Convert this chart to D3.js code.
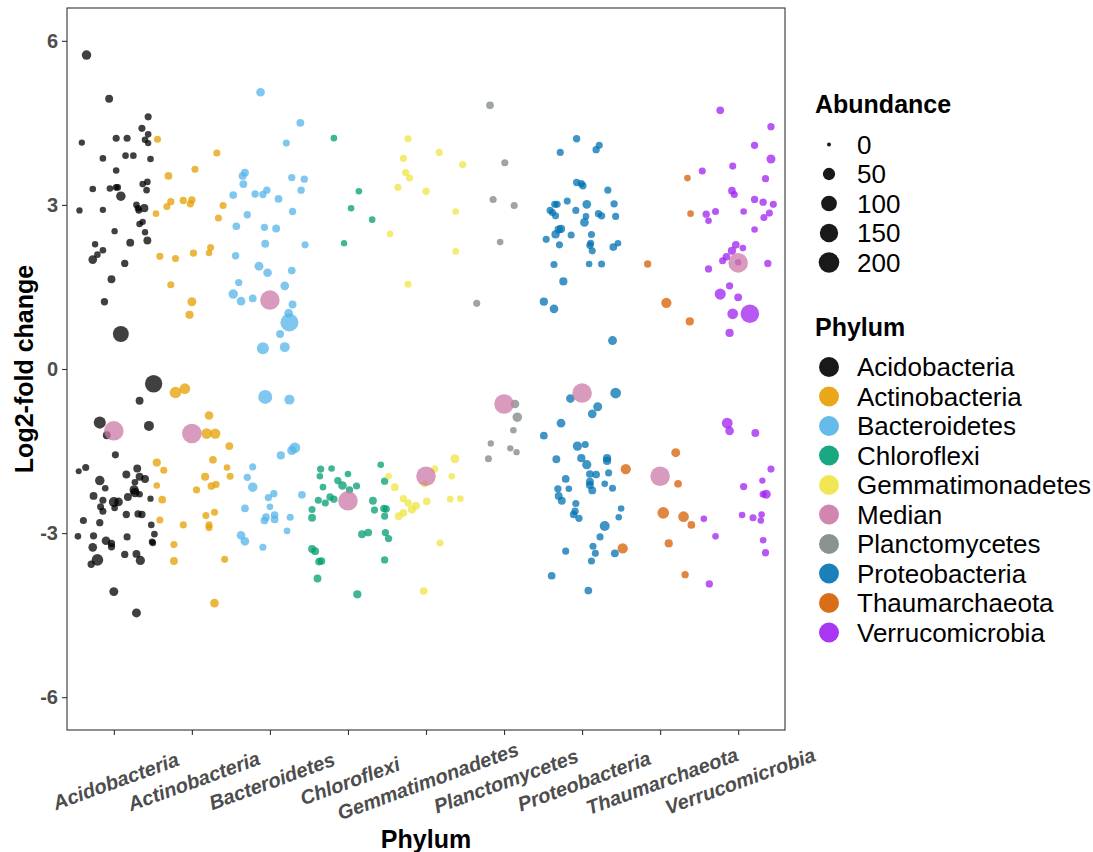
<!DOCTYPE html>
<html>
<head>
<meta charset="utf-8">
<script src="https://cdn.jsdelivr.net/npm/d3@7"></script>
<style>
  body { margin: 0; background: #fff; }
  svg { font-family: "Liberation Sans", Arial, sans-serif; }
</style>
</head>
<body>
<svg width="1093" height="852"></svg>
<script>
// phylum order on the x axis
const phyla = ["Acidobacteria", "Actinobacteria", "Bacteroidetes", "Chloroflexi", "Gemmatimonadetes",
  "Planctomycetes", "Proteobacteria", "Thaumarchaeota", "Verrucomicrobia"]

// each point: [jitter (fraction of a category step), log2-fold change, abundance]
const acidobacteria = [
  [-0.35,5.74,22],[-0.06,4.94,11],[0.44,4.61,7],[0.36,4.40,7],[0.44,4.29,5],[0.40,4.19,5],[0.44,4.13,4],[-0.41,4.14,4],[0.03,4.22,7],[0.17,4.22,7],
  [-0.14,3.85,5],[0.15,3.90,5],[0.25,3.90,5],[0.47,3.84,5],[0.03,3.63,5],[-0.27,3.29,5],[-0.05,3.30,5],[0.03,3.32,5],[0.05,3.32,5],[0.09,3.16,22],
  [0.37,3.38,5],[0.43,3.42,5],[0.42,3.27,5],[-0.44,2.90,4],[-0.14,2.91,4],[0.29,3.00,5],[0.31,2.94,5],[0.32,2.90,5],[0.39,2.94,13],[0.33,2.65,5],
  [0.37,2.69,4],[0.01,2.52,4],[0.40,2.50,4],[-0.24,2.28,4],[0.21,2.31,11],[0.43,2.35,11],[-0.14,2.17,5],[-0.21,2.09,5],[-0.27,2.00,16],[0.14,1.93,8],
  [-0.03,1.64,11],[-0.12,1.23,8],[0.09,0.64,104],
  [0.51,-0.27,130],[0.33,-0.58,11],[-0.18,-0.98,47],[-0.09,-1.21,11],[0.45,-1.04,26],[0.02,-1.57,7],[-0.45,-1.87,3],[-0.36,-1.80,7],[-0.18,-2.04,22],[-0.11,-2.18,5],
  [0.16,-1.93,11],[0.30,-1.82,11],[0.33,-1.97,11],[0.40,-2.01,11],[0.27,-2.07,5],[0.26,-2.21,20],[0.27,-2.26,20],[0.33,-2.29,5],[0.18,-2.34,11],[-0.26,-2.32,11],
  [-0.14,-2.40,7],[-0.17,-2.52,7],[-0.14,-2.60,7],[0.00,-2.43,26],[0.06,-2.43,16],[0.01,-2.54,5],[0.47,-2.37,4],[0.16,-2.66,8],[0.31,-2.65,8],[0.36,-2.66,8],
  [-0.39,-2.77,7],[-0.18,-2.81,8],[0.48,-2.85,5],[-0.46,-3.06,5],[-0.26,-3.05,8],[-0.10,-3.14,16],[-0.03,-3.19,8],[-0.03,-3.25,8],[0.17,-3.07,7],[0.52,-3.02,5],
  [0.49,-3.16,5],[0.50,-3.18,5],[-0.27,-3.26,16],[-0.21,-3.49,42],[-0.29,-3.57,8],[0.14,-3.39,8],[0.29,-3.38,11],[0.34,-3.50,20],[0.00,-4.07,18],[0.29,-4.46,18]
]

const actinobacteria = [
  [-0.44,4.20,7],[0.32,3.95,7],[0.04,3.65,7],[-0.30,3.53,10],[-0.27,3.06,8],[-0.32,2.97,7],[-0.11,3.08,8],[0.00,3.09,8],[-0.02,3.02,8],[0.40,2.99,7],
  [-0.46,2.84,5],[0.34,2.76,7],[0.24,2.22,7],[0.22,2.12,5],[0.02,2.12,8],[-0.41,2.06,7],[-0.21,2.02,7],[-0.27,1.54,7],[0.00,1.23,18],[-0.03,0.99,13],
  [-0.21,-0.43,42],[-0.09,-0.36,33],[0.22,-0.85,16],[0.19,-1.18,33],[0.30,-1.18,29],[0.48,-1.41,11],[-0.45,-1.71,13],[-0.36,-1.85,7],[-0.45,-2.13,5],[-0.38,-2.39,10],
  [0.27,-1.66,10],[0.45,-1.80,5],[0.17,-1.97,13],[0.49,-1.96,7],[0.25,-2.14,10],[0.31,-2.11,7],[0.06,-2.21,7],[-0.41,-2.76,7],[-0.11,-2.85,7],[0.18,-2.68,7],
  [0.29,-2.62,7],[0.22,-2.85,7],[0.22,-2.90,7],[-0.23,-3.21,7],[-0.23,-3.51,11],[0.42,-3.48,7],[0.29,-4.28,16]
]

const bacteroidetes = [
  [-0.32,3.59,11],[-0.35,3.53,11],[-0.34,3.38,11],[-0.47,3.18,10],[-0.29,2.82,8],[-0.43,2.61,10],[-0.44,2.07,8],[-0.40,1.58,8],[-0.47,1.37,22],[-0.37,1.24,16],
  [-0.12,5.06,16],[0.39,4.50,11],[0.21,4.13,7],[0.28,3.50,8],[0.44,3.47,8],[0.40,3.27,8],[-0.19,3.20,8],[-0.09,3.19,8],[-0.04,3.27,8],[0.11,3.11,10],
  [0.29,2.88,8],[-0.07,2.59,8],[0.08,2.57,11],[-0.06,2.29,11],[0.45,2.27,7],[-0.14,1.88,18],[-0.03,1.76,16],[0.28,1.80,10],[0.19,1.52,16],[-0.22,1.29,10],
  [0.29,1.18,11],[0.24,1.02,16],[0.25,0.85,142],[-0.09,0.38,47],[0.19,0.40,26],[0.13,0.64,11],
  [-0.06,-0.51,73],[0.25,-0.56,26],[0.32,-1.44,33],[0.28,-1.49,20],[0.14,-1.58,13],[-0.22,-1.79,7],[-0.29,-1.98,8],[-0.22,-2.16,22],[-0.02,-2.35,8],[0.05,-2.28,8],
  [0.41,-2.30,10],[-0.32,-2.55,10],[0.00,-2.52,5],[-0.05,-2.71,10],[-0.07,-2.77,10],[0.06,-2.67,10],[0.06,-2.75,10],[0.26,-2.71,7],[0.22,-2.96,5],[-0.37,-3.04,16],
  [-0.32,-3.15,16],[-0.09,-3.26,7]
]

const chloroflexi = [
  [-0.18,4.22,5],[0.14,3.25,5],[0.04,2.94,5],[0.31,2.73,5],[-0.05,2.30,4],
  [-0.35,-1.83,8],[-0.36,-1.96,5],[-0.21,-1.82,5],[0.00,-1.92,5],[-0.13,-2.04,8],[-0.07,-2.13,16],[0.02,-2.21,8],[0.11,-2.14,7],[-0.32,-2.16,5],[-0.23,-2.34,8],
  [-0.18,-2.38,8],[-0.38,-2.40,7],[-0.29,-2.45,7],[-0.46,-2.57,7],[-0.46,-2.72,11],[0.42,-1.75,5],[0.47,-2.05,8],[0.32,-2.41,11],[0.34,-2.58,7],[0.46,-2.55,8],
  [0.49,-2.56,8],[0.47,-2.69,7],[0.18,-3.02,11],[0.26,-2.99,10],[0.48,-2.99,8],[0.52,-3.10,8],[-0.46,-3.29,11],[-0.42,-3.33,11],[-0.37,-3.52,10],[-0.34,-3.51,10],
  [-0.39,-3.83,11],[0.47,-3.49,8],[0.12,-4.12,13]
]

const gemmatimonadetes = [
  [-0.23,4.21,7],[-0.29,3.85,7],[-0.26,3.59,7],[-0.21,3.49,7],[-0.36,3.32,7],[-0.46,2.47,5],[-0.23,1.55,7],[0.17,3.96,7],[0.47,3.74,7],[0.00,3.25,8],
  [0.38,2.88,5],[0.38,2.15,5],
  [-0.48,-1.96,5],[-0.40,-2.16,11],[-0.29,-2.37,8],[-0.23,-2.45,8],[-0.13,-2.50,13],[-0.18,-2.57,13],[-0.35,-2.69,11],[-0.29,-2.63,11],
  [0.37,-1.64,18],[0.11,-1.83,8],[0.33,-1.96,5],[-0.02,-2.10,7],[0.01,-2.42,10],[0.31,-2.38,5],[0.44,-2.37,5],[0.18,-3.18,7],[-0.03,-4.06,10]
]

const planctomycetes = [
  [-0.18,4.82,10],[0.01,3.77,7],[-0.14,3.10,7],[0.13,2.99,7],[-0.05,2.32,5],[-0.35,1.20,7],
  [0.14,-0.64,16],[0.17,-0.88,22],[0.12,-1.12,5],[-0.17,-1.36,4],[0.08,-1.45,4],[0.16,-1.52,4],[-0.20,-1.64,7]
]

const proteobacteria = [
  [-0.07,4.21,8],[-0.28,3.96,7],[0.18,4.01,8],[0.22,4.09,7],[-0.07,3.41,8],[-0.01,3.39,8],[0.01,3.35,8],[-0.19,3.07,7],[-0.35,3.01,7],[-0.32,3.01,7],
  [-0.41,2.90,7],[-0.38,2.86,7],[-0.34,2.80,7],[-0.08,2.90,7],[0.06,3.01,16],[0.05,2.79,5],[0.03,2.68,16],[-0.30,2.55,13],[-0.27,2.56,13],[-0.34,2.46,13],
  [-0.46,2.37,7],[-0.29,2.27,7],[-0.14,2.45,7],[0.12,2.46,7],[0.10,2.26,7],[0.11,2.30,7],[0.13,2.16,7],[-0.36,1.91,7],[0.09,1.92,5],[0.25,1.92,7],
  [-0.24,1.60,13],[-0.49,1.23,13],[-0.36,1.10,16],[0.33,3.27,7],[0.41,3.02,8],[0.21,2.84,8],[0.25,2.80,8],[0.43,2.79,7],[0.40,2.23,10],[0.46,2.30,5],
  [-0.15,-0.54,16],[0.20,-0.69,18],[0.13,-0.82,16],[-0.27,-0.99,16],[-0.49,-1.22,10],[-0.06,-1.41,20],[0.04,-1.38,7],[-0.33,-1.65,11],[-0.01,-1.63,13],[0.06,-1.75,20],
  [0.10,-1.92,10],[0.18,-1.93,10],[-0.21,-2.01,10],[0.10,-2.06,11],[0.10,-2.12,11],[0.13,-2.22,11],[-0.31,-2.19,8],[-0.17,-2.19,5],[-0.30,-2.32,11],[-0.26,-2.41,11],
  [-0.08,-2.46,7],[-0.09,-2.60,8],[-0.11,-2.66,8],[-0.04,-2.73,8],[-0.21,-3.33,7],[0.14,-3.24,7],[0.17,-3.37,7],[0.12,-3.51,7],[-0.39,-3.78,10],[0.08,-4.05,10],
  [0.39,0.52,18],[0.43,-0.44,33],[0.32,-1.63,13],[0.32,-1.68,13],[0.34,-1.90,7],[0.29,-2.10,5],[0.39,-2.18,7],[0.50,-2.55,5],[0.47,-2.71,5],[0.29,-2.87,26],
  [0.23,-3.07,7],[0.42,-3.37,11]
]

const thaumarchaeota = [
  [0.35,3.49,5],[0.39,2.84,5],[-0.16,1.92,8],[0.08,1.21,29],[0.38,0.87,13],
  [0.20,-1.53,18],[-0.44,-1.83,29],[0.23,-2.10,10],[0.04,-2.63,42],[0.30,-2.70,33],[0.40,-2.85,10],[-0.48,-3.28,29],[0.11,-3.19,13],[0.32,-3.76,8]
]

const verrucomicrobia = [
  [-0.23,4.73,10],[0.42,4.43,8],[0.21,4.09,8],[0.42,3.84,18],[-0.07,3.71,7],[-0.46,3.62,7],[0.35,3.48,8],[-0.08,3.26,10],[-0.05,3.19,7],[0.21,3.10,8],
  [0.32,3.05,8],[0.45,3.01,7],[-0.41,2.83,8],[-0.38,2.71,5],[-0.29,2.88,7],[0.07,2.88,5],[0.40,2.85,7],[0.33,2.77,7],[0.21,2.55,5],[-0.03,2.27,10],
  [-0.08,2.16,13],[0.06,2.21,5],[-0.15,2.05,10],[-0.20,1.98,7],[0.00,1.95,5],[-0.38,1.83,8],[0.38,1.93,8],[-0.11,1.52,8],[-0.23,1.37,37],[0.00,1.31,11],
  [-0.07,1.01,33],[0.15,1.01,155],[-0.11,0.66,13],
  [-0.14,-0.99,33],[-0.11,-1.13,16],[0.22,-1.17,11],[0.42,-1.83,7],[0.31,-2.04,4],[0.07,-2.15,8],[0.32,-2.29,7],[0.36,-2.29,18],[0.05,-2.67,5],[0.19,-2.72,7],
  [0.30,-2.66,5],[0.29,-2.77,5],[-0.44,-2.74,5],[-0.29,-3.06,5],[0.32,-3.13,5],[0.35,-3.36,8],[-0.37,-3.93,8]
]

// median log2-fold change per phylum (same order as phyla)
const medianValues = [-1.13, -1.18, 1.26, -2.41, -1.96, -0.64, -0.44, -1.96, 1.94]
const medianAbundance = 176

const yTicks = [-6, -3, 0, 3, 6]
const sizeBreaks = [0, 50, 100, 150, 200]
const colorLevels = ["Acidobacteria", "Actinobacteria", "Bacteroidetes", "Chloroflexi", "Gemmatimonadetes",
  "Median", "Planctomycetes", "Proteobacteria", "Thaumarchaeota", "Verrucomicrobia"]
const colorValues = ["#000000", "#E69F00", "#56B4E9", "#009E73", "#F0E442",
  "#CC79A7", "#7d8686", "#0072B2", "#D55E00", "#A020F0"]

const pointsByPhylum = [acidobacteria, actinobacteria, bacteroidetes, chloroflexi, gemmatimonadetes,
  planctomycetes, proteobacteria, thaumarchaeota, verrucomicrobia]

let points = []
phyla.forEach((p, i) => {
  pointsByPhylum[i].forEach(d => {
    points.push({ phylum: p, group: p, jit: d[0], lfc: d[1], abund: d[2] })
  })
})
phyla.forEach((p, i) => {
  points.push({ phylum: p, group: "Median", jit: 0, lfc: medianValues[i], abund: medianAbundance })
})

var svg = d3.select("svg")

const panel = { left: 67, right: 785, top: 8, bottom: 730 }

var x = d3.scalePoint().domain(phyla).range([panel.left, panel.right]).padding(0.6)
var y = d3.scaleLinear().domain([-6.6, 6.6]).range([panel.bottom, panel.top])
var r = d3.scaleSqrt().domain([0, 200]).range([2, 10.3])
var color = d3.scaleOrdinal().domain(colorLevels).range(colorValues)

// points
svg.append("g").selectAll("circle")
  .data(points)
  .enter().append("circle")
  .attr("cx", d => x(d.phylum) + d.jit * x.step())
  .attr("cy", d => y(d.lfc))
  .attr("r", d => r(d.abund))
  .style("fill", d => color(d.group))
  .style("fill-opacity", 0.75)

// panel border
svg.append("rect")
  .attr("x", panel.left).attr("y", panel.top)
  .attr("width", panel.right - panel.left).attr("height", panel.bottom - panel.top)
  .attr("fill", "none").attr("stroke", "#333333").attr("stroke-width", 1.1)

// y axis (plain hyphen for negatives, like the original)
var yAxis = svg.append("g")
  .attr("transform", "translate(" + panel.left + ",0)")
  .call(d3.axisLeft(y).tickValues(yTicks).tickSize(5).tickPadding(4).tickFormat(d => String(d)))
yAxis.select(".domain").remove()
yAxis.selectAll(".tick line").attr("stroke", "#333333").attr("stroke-width", 1.1)
yAxis.selectAll(".tick text")
  .attr("fill", "#4d4d4d").style("font-size", "20px").style("font-weight", "bold")
  .style("font-family", "'Liberation Sans', Arial, sans-serif")

// x axis
var xAxis = svg.append("g")
  .attr("transform", "translate(0," + panel.bottom + ")")
  .call(d3.axisBottom(x).tickSize(5).tickFormat(""))
xAxis.select(".domain").remove()
xAxis.selectAll(".tick line").attr("stroke", "#333333").attr("stroke-width", 1.1)

svg.append("g").selectAll("text")
  .data(phyla)
  .enter().append("text")
  .attr("transform", d => "translate(" + (x(d) + 2) + ",781) rotate(-20)")
  .attr("text-anchor", "middle")
  .attr("dy", "0.35em")
  .attr("fill", "#4d4d4d")
  .style("font-size", "20px").style("font-weight", "bold").style("font-style", "italic")
  .text(d => d)

// axis titles
svg.append("text")
  .attr("x", (panel.left + panel.right) / 2).attr("y", 848)
  .attr("text-anchor", "middle")
  .style("font-size", "25px").style("font-weight", "bold")
  .text("Phylum")

svg.append("text")
  .attr("transform", "translate(33," + ((panel.top + panel.bottom) / 2) + ") rotate(-90)")
  .attr("text-anchor", "middle")
  .style("font-size", "25px").style("font-weight", "bold")
  .text("Log2-fold change")

// legend: abundance
var legend = svg.append("g")
legend.append("text")
  .attr("x", 815).attr("y", 113)
  .style("font-size", "25px").style("font-weight", "bold")
  .text("Abundance")

var sizeKeys = legend.selectAll(".sizekey")
  .data(sizeBreaks)
  .enter().append("g")
  .attr("transform", (d, i) => "translate(829," + (144.5 + i * 29.5) + ")")
sizeKeys.append("circle")
  .attr("r", d => r(d))
  .style("fill", "#000").style("fill-opacity", 0.9)
sizeKeys.append("text")
  .attr("x", 28).attr("dy", "0.36em")
  .style("font-size", "26px")
  .text(d => d)

// legend: phylum
legend.append("text")
  .attr("x", 815).attr("y", 336)
  .style("font-size", "25px").style("font-weight", "bold")
  .text("Phylum")

var colorKeys = legend.selectAll(".colorkey")
  .data(colorLevels)
  .enter().append("g")
  .attr("transform", (d, i) => "translate(829," + (367 + i * 29.5) + ")")
colorKeys.append("circle")
  .attr("r", 10)
  .style("fill", d => color(d)).style("fill-opacity", 0.9)
colorKeys.append("text")
  .attr("x", 28).attr("dy", "0.36em")
  .style("font-size", "26px")
  .text(d => d)
</script>
</body>
</html>
